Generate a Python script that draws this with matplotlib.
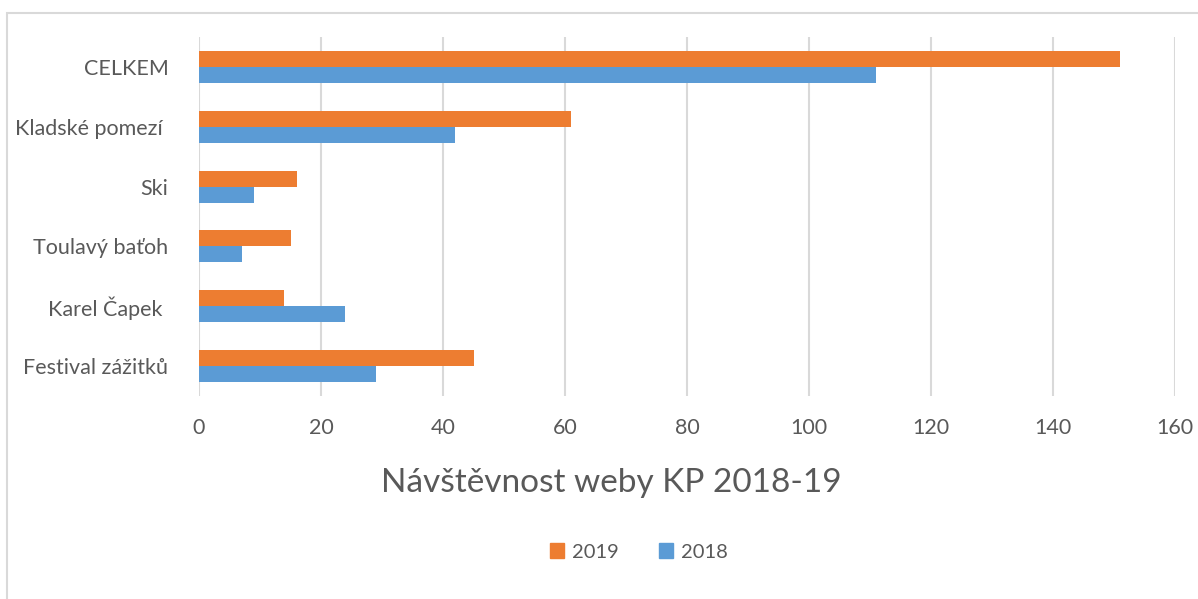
import matplotlib.pyplot as plt
import matplotlib.patches as mpatches
import numpy as np

plt.rcParams['font.family'] = ['Lato', 'DejaVu Sans']

categories = ['CELKEM', 'Kladské pomezí ', 'Ski', 'Toulavý baťoh', 'Karel Čapek ', 'Festival zážitků']
v2019 = [151, 61, 16, 15, 14, 45]
v2018 = [111, 42, 9, 7, 24, 29]
xticks = [0, 20, 40, 60, 80, 100, 120, 140, 160]

orange = '#ED7D31'
blue = '#5B9BD5'
grey = '#595959'
gridc = '#D9D9D9'

fig = plt.figure(figsize=(11.98, 5.99), dpi=100)
ax = fig.add_axes([199/1198, 1 - 396/599, (1175 - 199)/1198, (396 - 37)/599])

y = np.arange(len(categories))
h = 0.267
ax.barh(y - h/2, v2019, height=h, color=orange, label='2019', zorder=3)
ax.barh(y + h/2, v2018, height=h, color=blue, label='2018', zorder=3)

ax.set_ylim(len(categories) - 0.5, -0.5)
ax.set_xlim(0, 160)
ax.set_xticks(xticks)
ax.set_yticks(y)
ax.set_yticklabels(categories)
ax.tick_params(axis='both', length=0, labelsize=15.5, labelcolor=grey)
ax.tick_params(axis='x', pad=16)
ax.tick_params(axis='y', pad=22)
for t in ax.get_yticklabels():
    t.set_va('center_baseline')
ax.grid(axis='x', color=gridc, linewidth=1.5, zorder=0)
for s in ax.spines.values():
    s.set_visible(False)

fig.text(0.5 + 12/1198, 1 - 483/599, 'Návštěvnost weby KP 2018-19', ha='center', va='center',
         fontsize=24, color=grey)

handles = [mpatches.Patch(color=orange, label='2019'), mpatches.Patch(color=blue, label='2018')]
fig.legend(handles=handles, loc='center', bbox_to_anchor=(639/1198, 1 - 552/599), ncol=2,
           frameon=False, fontsize=14.5, labelcolor=grey, handlelength=0.7, handleheight=0.7,
           handletextpad=0.4, columnspacing=2.0)

fig.patches.append(mpatches.Rectangle((7/1198, -0.1), 1.2, 1.1 - 13/599, transform=fig.transFigure,
                                      fill=False, edgecolor=gridc, linewidth=1.5))

plt.savefig('out.png', dpi=100)
